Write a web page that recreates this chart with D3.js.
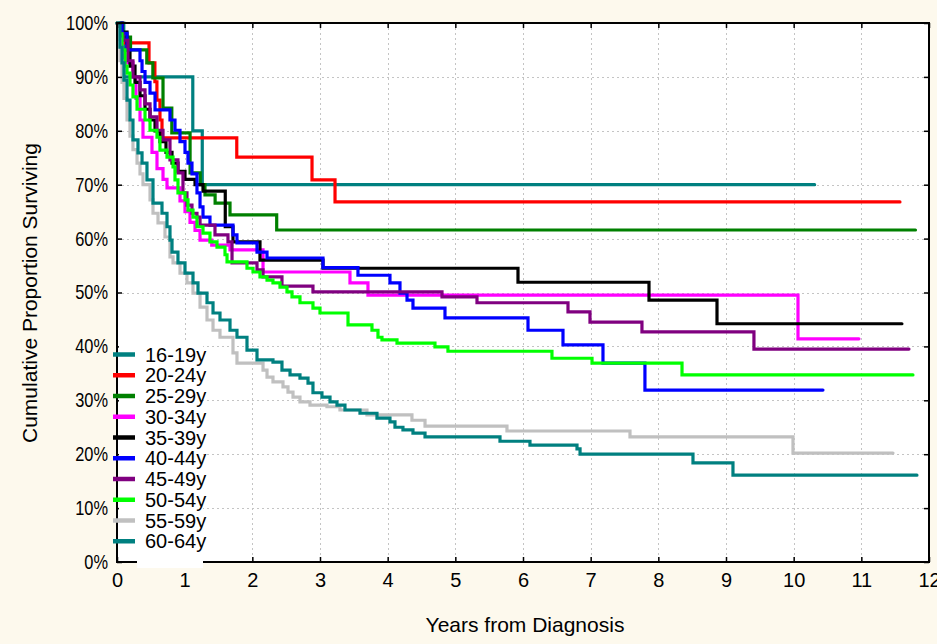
<!DOCTYPE html>
<html><head><meta charset="utf-8">
<script src="https://cdn.jsdelivr.net/npm/d3@7"></script>
<style>body{margin:0;background:#fdf9ed}svg{display:block}</style>
</head><body>
<svg width="937" height="644"></svg>
<script>
// ---- data ----
const labels = ["16-19y","20-24y","25-29y","30-34y","35-39y","40-44y","45-49y","50-54y","55-59y","60-64y"];
const xTickValues = [0,1,2,3,4,5,6,7,8,9,10,11,12];
const yTickValues = [0,10,20,30,40,50,60,70,80,90,100];

const t_16_19 = [0, 0.1, 1.12, 1.26, 10.31];
const s_16_19 = [100, 90, 80, 70, 70];

const t_20_24 = [0, 0.074, 0.473, 0.56, 0.59, 0.635, 0.665, 1.77, 2.882, 3.222, 11.571];
const s_20_24 = [100, 96.3, 92.6, 89.1, 85.7, 82.0, 78.7, 75.1, 70.9, 66.8, 66.8];

const t_25_29 = [0, 0.05, 0.2, 0.44, 0.53, 0.68, 0.81, 1.08, 1.23, 1.3, 1.45, 1.67, 2.36, 11.8];
const s_25_29 = [100, 97.4, 95.0, 92.6, 89.8, 84.2, 79.6, 72.2, 70.0, 68.1, 66.6, 64.4, 61.6, 61.6];

const t_30_34 = [0, 0.03, 0.074, 0.118, 0.236, 0.28, 0.34, 0.384, 0.517, 0.591, 0.68, 0.739, 0.931, 1.005, 1.079, 1.153, 1.227, 1.4, 1.67, 2.158, 3.443, 3.709, 10.064, 10.965];
const s_30_34 = [100, 97, 94.5, 92.6, 90, 86, 82, 78.8, 76, 73, 71, 69.4, 67, 65, 63, 61.5, 59.7, 58.8, 57.9, 53.8, 51.8, 49.5, 41.4, 41.4];

const t_35_39 = [0, 0.074, 0.148, 0.192, 0.266, 0.34, 0.414, 0.488, 0.562, 0.635, 0.724, 0.813, 0.901, 1.005, 1.153, 1.271, 1.6, 1.714, 2.113, 3.044, 5.926, 7.862, 8.867, 11.6];
const s_35_39 = [100, 98.3, 95, 92, 89, 86.5, 84, 82, 80, 78, 76, 74, 72.5, 71, 70, 68.8, 62.2, 59.4, 56.0, 54.5, 51.9, 48.6, 44.2, 44.2];

const t_40_44 = [0, 0.074, 0.148, 0.34, 0.37, 0.414, 0.488, 0.562, 0.783, 0.857, 0.931, 1.005, 1.049, 1.108, 1.182, 1.227, 1.271, 1.374, 1.714, 1.773, 2.069, 2.217, 3.044, 3.561, 4.034, 4.182, 4.286, 4.374, 4.847, 6.074, 6.591, 7.182, 7.802, 10.433];
const s_40_44 = [100, 98.1, 95.0, 93, 91, 89, 87, 83.9, 82, 80.1, 78, 76, 74, 72, 68.5, 65.9, 64.0, 62.5, 60.7, 59.2, 57.5, 56.4, 54.6, 53.2, 51.8, 49.9, 48.6, 47.1, 45.3, 43.0, 40.3, 36.9, 31.9, 31.9];

const t_45_49 = [0, 0.03, 0.088, 0.162, 0.236, 0.34, 0.414, 0.488, 0.591, 0.68, 0.783, 0.901, 0.975, 1.034, 1.108, 1.182, 1.227, 1.448, 1.64, 1.7, 2.069, 2.158, 2.438, 2.896, 4.803, 5.32, 6.665, 6.99, 7.758, 9.413, 11.704];
const s_45_49 = [100, 98, 96.8, 93, 90, 87.6, 85, 82.6, 80.1, 78.3, 74.6, 72.2, 68.5, 66.2, 64.7, 64.0, 62.5, 60.7, 59.4, 55.5, 54.2, 52.9, 51.2, 50.1, 49.2, 48.1, 46.4, 44.5, 42.7, 39.5, 39.5];

const t_50_54 = [0, 0.015, 0.074, 0.118, 0.148, 0.192, 0.236, 0.296, 0.414, 0.488, 0.591, 0.635, 0.739, 0.828, 0.857, 0.901, 1.005, 1.049, 1.123, 1.182, 1.271, 1.374, 1.478, 1.596, 1.626, 1.921, 2.01, 2.113, 2.217, 2.305, 2.409, 2.512, 2.586, 2.704, 2.896, 3.0, 3.414, 3.768, 3.857, 3.916, 4.138, 4.699, 4.891, 6.428, 7.02, 8.35, 11.763];
const s_50_54 = [100, 98, 95, 92, 90.7, 88.5, 86.3, 84.0, 82, 80.1, 78.8, 76.4, 75.1, 73.3, 70.9, 68.5, 67.2, 65.3, 64.0, 62.2, 61.0, 59.4, 58.4, 57.0, 55.7, 54.5, 53.8, 52.9, 52.3, 51.8, 51.0, 50.1, 49.2, 48.1, 47.1, 46.2, 44.0, 43.0, 41.7, 41.2, 40.6, 39.9, 39.1, 37.8, 36.9, 34.7, 34.7];

const t_55_59 = [0, 0.015, 0.044, 0.074, 0.103, 0.148, 0.192, 0.236, 0.296, 0.34, 0.384, 0.488, 0.532, 0.606, 0.709, 0.783, 0.828, 0.931, 1.034, 1.123, 1.227, 1.33, 1.419, 1.522, 1.714, 1.773, 2.158, 2.217, 2.305, 2.453, 2.527, 2.601, 2.704, 2.852, 3.103, 3.295, 3.694, 4.359, 4.552, 5.763, 7.581, 9.99, 11.468];
const s_55_59 = [100, 97, 93, 89, 86, 82, 79, 76.5, 74, 72, 70, 67.2, 64.7, 62.9, 60.3, 56.6, 55.5, 53.6, 51.8, 49.9, 47.3, 44.9, 43.0, 41.7, 38.8, 36.9, 35.6, 34.3, 33.4, 32.5, 31.5, 30.6, 29.7, 29.1, 28.8, 28.2, 27.3, 26.3, 25.2, 24.3, 23.2, 20.2, 20.2];

const t_60_64 = [0, 0.044, 0.074, 0.103, 0.148, 0.192, 0.236, 0.31, 0.37, 0.443, 0.532, 0.665, 0.739, 0.783, 0.813, 0.901, 1.005, 1.123, 1.197, 1.33, 1.419, 1.522, 1.67, 1.773, 1.921, 2.069, 2.305, 2.438, 2.557, 2.704, 2.823, 2.896, 3.029, 3.148, 3.251, 3.369, 3.591, 3.842, 4.034, 4.108, 4.226, 4.374, 4.552, 5.66, 6.103, 6.798, 6.843, 8.512, 9.103, 11.822];
const s_60_64 = [100, 95.5, 92.6, 89.4, 85.7, 82.0, 78.3, 75.9, 74.0, 70.9, 66.6, 64.7, 62.2, 59.7, 57.5, 55.5, 53.6, 51.8, 49.9, 48.1, 46.2, 44.9, 43.0, 41.7, 39.3, 37.5, 37.1, 35.6, 34.7, 34.1, 33.2, 31.4, 30.6, 29.7, 29.1, 28.2, 27.6, 26.7, 26.0, 25.0, 24.5, 23.9, 23.2, 22.4, 21.7, 21.0, 20.0, 18.4, 16.1, 16.1];

const allTimes = [t_16_19, t_20_24, t_25_29, t_30_34, t_35_39, t_40_44, t_45_49, t_50_54, t_55_59, t_60_64];
const allSurv  = [s_16_19, s_20_24, s_25_29, s_30_34, s_35_39, s_40_44, s_45_49, s_50_54, s_55_59, s_60_64];

// ---- styles ----
const colors = ["#008080","#ff0000","#008000","#ff00ff","#000000","#0000ff","#800080","#00ff00","#c0c0c0","#008080"];
const FONT = "'Liberation Sans Narrow','Arial Narrow','Liberation Sans',Arial,sans-serif";

const W = 937, H = 644;
const L = 117, R = 929, T = 23, B = 562;

const svg = d3.select("svg");
svg.append("rect").attr("width", W).attr("height", H).attr("fill", "#fdf9ed");
svg.append("rect").attr("x", L).attr("y", T).attr("width", R - L).attr("height", B - T).attr("fill", "#fff");

const x = d3.scaleLinear().domain([0, 12]).range([L, R]);
const y = d3.scaleLinear().domain([0, 100]).range([B, T]);

// grid
const grid = svg.append("g").attr("stroke", "#c4c4c4").attr("stroke-width", 1).attr("stroke-dasharray", "2,3");
grid.selectAll(".gx").data(xTickValues.slice(1, -1)).join("line")
  .attr("x1", d => Math.round(x(d)) + 0.5).attr("x2", d => Math.round(x(d)) + 0.5)
  .attr("y1", T).attr("y2", B);
grid.selectAll(".gy").data(yTickValues.slice(1, -1)).join("line")
  .attr("y1", d => Math.round(y(d)) + 0.5).attr("y2", d => Math.round(y(d)) + 0.5)
  .attr("x1", L).attr("x2", R);

// curves
const line = d3.line().x(d => x(d[0])).y(d => y(d[1])).curve(d3.curveStepAfter);
const series = labels.map((lab, i) => ({ lab, color: colors[i], pts: allTimes[i].map((t, j) => [t, allSurv[i][j]]) }));
svg.append("g").selectAll("path").data(series).join("path")
  .attr("d", d => line(d.pts))
  .attr("fill", "none")
  .attr("stroke", d => d.color)
  .attr("stroke-width", 3.2)
  .attr("stroke-linejoin", "miter")
  .attr("stroke-linecap", "round");

// axes (ticks inward on all four sides)
const fmtPct = d => d + "%";
const gL = svg.append("g").attr("transform", `translate(${L},0)`)
  .call(d3.axisLeft(y).tickValues(yTickValues).tickFormat(fmtPct).tickSizeInner(-5).tickSizeOuter(0).tickPadding(11));
const gB = svg.append("g").attr("transform", `translate(0,${B})`)
  .call(d3.axisBottom(x).tickValues(xTickValues).tickFormat(d3.format("d")).tickSizeInner(-5).tickSizeOuter(0).tickPadding(11));
const gT = svg.append("g").attr("transform", `translate(0,${T})`)
  .call(d3.axisTop(x).tickValues(xTickValues).tickFormat("").tickSizeInner(-5).tickSizeOuter(0));
const gR = svg.append("g").attr("transform", `translate(${R},0)`)
  .call(d3.axisRight(y).tickValues(yTickValues).tickFormat("").tickSizeInner(-5).tickSizeOuter(0));
[gL, gB, gT, gR].forEach(g => {
  g.select(".domain").remove();
  g.selectAll(".tick line").attr("stroke", "#000").attr("stroke-width", 1.5);
  g.selectAll("text").attr("font-family", FONT).attr("font-size", 20).attr("fill", "#000");
});
gL.selectAll(".tick text").attr("transform", "scale(0.82,1)");

// frame
svg.append("rect").attr("x", L).attr("y", T).attr("width", R - L).attr("height", B - T)
  .attr("fill", "none").attr("stroke", "#000").attr("stroke-width", 2);

// legend
const lg = svg.append("g");
lg.append("rect").attr("x", L + 2).attr("y", 343).attr("width", 86 - 2).attr("height", B - 343 - 1).attr("fill", "#fff");
lg.append("rect").attr("x", 137).attr("y", B - 2).attr("width", 66).attr("height", 8).attr("fill", "#fff");
const items = lg.selectAll("g.item").data(series).join("g").attr("class", "item")
  .attr("transform", (d, i) => `translate(0,${354.5 + i * 20.75})`);
items.append("line").attr("x1", 113).attr("x2", 135).attr("stroke", d => d.color).attr("stroke-width", 4.5);
items.append("text").attr("x", 145).attr("y", 0).attr("dy", "0.35em")
  .attr("font-family", FONT).attr("font-size", 20).text(d => d.lab);

// axis titles
svg.append("text").attr("x", 525).attr("y", 625).attr("dy", "0.35em").attr("text-anchor", "middle")
  .attr("font-family", FONT).attr("font-size", 21).text("Years from Diagnosis");
svg.append("text").attr("transform", "translate(30,293) rotate(-90)").attr("dy", "0.35em").attr("text-anchor", "middle")
  .attr("font-family", FONT).attr("font-size", 21).text("Cumulative Proportion Surviving");
</script>
</body></html>
